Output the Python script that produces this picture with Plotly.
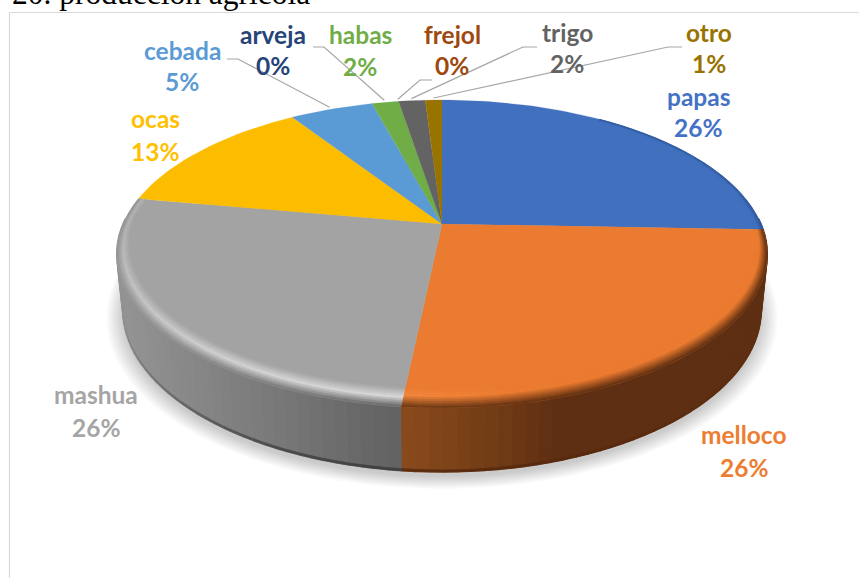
import math
import plotly.graph_objects as go

# ---- chart data ----
categories = ["papas", "melloco", "mashua", "ocas", "cebada", "arveja", "habas", "frejol", "trigo", "otro"]
values = [25.6, 26.1, 26.2, 13.0, 5.0, 0.0, 1.6, 0.0, 1.6, 1.0]
slice_colors = ["#4170bf", "#ea7b30", "#a3a3a3", "#fcbd00", "#5b9bd5", "#264478", "#70ad47", "#9e480e", "#636363", "#997300"]
label_colors = ["#4472c4", "#ed7d31", "#a5a5a5", "#ffc000", "#5b9bd5", "#264478", "#70ad47", "#9e480e", "#636363", "#997300"]
title_text = "20. producción agrícola"

# ---- layout of labels (pixel positions of name and percent lines) ----
label_x = [698, 744, 96, 155, 182, 273, 360, 452, 567, 709]
name_y = [96.5, 434.5, 394.5, 118.5, 50.5, 34.5, 34.5, 34.5, 32.5, 32.5]
pct_y = [127.5, 467.5, 427.5, 151.5, 81.5, 65.5, 66.5, 65.5, 63.5, 63.5]
# elbow of the leader lines: start and knee, for the categories that have one
leaders = {"cebada": (227, 238, 59), "habas": (313, 324, 47), "frejol": (432, 420, 80),
           "trigo": (537, 523, 47), "otro": (682, 668, 47)}

W, H = 859, 578
CX, CY = 442, 224
K = 0.195
TOP = (319.0, 148.2, 0.0)   # x scale, y scale, y origin shift
BOT = (313.0, 155.8, 54.4)


def proj(theta, r=1.0, g=TOP):
    u, v = math.sin(math.radians(theta)) * r, math.cos(math.radians(theta)) * r
    d = 1 + K * v
    return CX + g[0] * u / d, CY + g[2] - g[1] * v / d


def hex2rgb(c):
    return [int(c[i:i + 2], 16) for i in (1, 3, 5)]


def mix(a, b, t):
    t = max(0.0, min(1.0, t))
    return [a[i] + (b[i] - a[i]) * t for i in range(3)]


def css(c):
    return "rgb(%d,%d,%d)" % tuple(round(x) for x in c)


def ramp(stops, x):
    if x <= stops[0][0]:
        return hex2rgb(stops[0][1])
    for (x0, c0), (x1, c1) in zip(stops, stops[1:]):
        if x <= x1:
            return mix(hex2rgb(c0), hex2rgb(c1), (x - x0) / (x1 - x0))
    return hex2rgb(stops[-1][1])


SIDE = {
    "melloco": [(402, "#8a4a1c"), (480, "#763e17"), (560, "#5e2f12")],
    "mashua": [(125, "#939393"), (220, "#828282"), (300, "#747474"), (370, "#666666"), (402, "#626262")],
    "papas": [(740, "#2f4f85")],
}
EDGE = {"melloco": "#562a0f", "mashua": "#3c3c3c", "papas": "#2a4678"}

fig = go.Figure()


def poly(xs, ys, color, lw=0.6):
    fig.add_trace(go.Scatter(x=xs, y=ys, mode="lines", fill="toself", fillcolor=color,
                             line=dict(color=color, width=lw), hoverinfo="skip", showlegend=False))


total = sum(values)
starts, a = [], 0.0
for v in values:
    starts.append(a)
    a += v / total * 360

# soft shadow below the disc
ang = [i * 3 for i in range(121)]
for e in range(12, -1, -1):
    sc = 1 + e * 0.0042
    pts = [proj(t, sc, BOT) for t in ang]
    poly([p[0] for p in pts], [p[1] + 5 for p in pts], "rgba(0,0,0,0.016)", 0)

# side wall, drawn in thin strips so that the shade follows x
STEP = 2.0
for name, st, val in zip(categories, starts, values):
    if name not in SIDE or val == 0:
        continue
    a0, a1 = st, st + val / total * 360
    a0, a1 = max(a0, 88), min(a1, 272)
    n = max(1, int((a1 - a0) / STEP))
    for i in range(n):
        t0, t1 = a0 + (a1 - a0) * i / n, a0 + (a1 - a0) * (i + 1) / n
        p0, p1, q1, q0 = proj(t0), proj(t1), proj(t1, 1, BOT), proj(t0, 1, BOT)
        col = ramp(SIDE[name], (p0[0] + p1[0]) / 2)
        poly([p0[0], p1[0], q1[0], q0[0]], [p0[1], p1[1], q1[1], q0[1]], css(col), 1.6)
    for i in range(n):
        t0, t1 = a0 + (a1 - a0) * i / n, a0 + (a1 - a0) * (i + 1) / n
        q0, q1 = proj(t0, 1, BOT), proj(t1, 1, BOT)
        near = max(0.0, -math.cos(math.radians((t0 + t1) / 2)))
        col = mix(ramp(SIDE[name], q0[0]), hex2rgb(EDGE[name]), near ** 2 * 0.9)
        poly([q0[0], q1[0], q1[0], q0[0]], [q0[1] - 2, q1[1] - 2, q1[1], q0[1]], css(col), 0.8)

# top face wedges
for name, st, val, col in zip(categories, starts, values, slice_colors):
    if val == 0:
        continue
    a1 = st + val / total * 360
    n = max(2, int((a1 - st) / 1.5))
    pts = [proj(st + (a1 - st) * i / n) for i in range(n + 1)]
    poly([CX] + [p[0] for p in pts] + [CX], [CY] + [p[1] for p in pts] + [CY], col, 0.2)

# bevel on the rim
BANDS = 9


def rim_r(theta, t):
    near = max(0.0, -math.cos(math.radians(theta)))
    return 1 - (1 - t) * (0.028 + 0.058 * near)


def bevel_color(name, base, theta, t, x):
    near = max(0.0, -math.cos(math.radians(theta)))
    if name == "mashua":
        hi = mix(base, [255, 255, 255], 0.18 + 0.40 * near)
        out = ramp(SIDE[name], x)
        return mix(base, hi, t / 0.5) if t < 0.5 else mix(hi, out, (t - 0.5) / 0.5)
    if name == "melloco":
        lift = max(0.0, 1 - (x - 402) / 130)
        hi = mix(base, [255, 150, 80], 0.45 * lift)
        dark = mix(hex2rgb("#5a2d10"), ramp(SIDE[name], x), 0.3)
        return mix(base, hi, t / 0.4) if t < 0.4 else mix(hi, dark, (t - 0.4) / 0.6)
    return mix(base, hex2rgb("#2f5597"), max(0, t - 0.5) * 2)


for name, st, val, col in zip(categories, starts, values, slice_colors):
    if name not in ("melloco", "mashua", "papas"):
        continue
    a1 = st + val / total * 360
    a0 = st
    if name == "papas":
        a0 = 35.0
    base = hex2rgb(col)
    n = int((a1 - a0) / 3) + 1
    for b in range(BANDS):
        t0, t1 = b / BANDS, (b + 1) / BANDS
        for i in range(n):
            s0, s1 = a0 + (a1 - a0) * i / n, a0 + (a1 - a0) * (i + 1) / n
            p = [proj(s0, rim_r(s0, t0)), proj(s1, rim_r(s1, t0)), proj(s1, rim_r(s1, t1)), proj(s0, rim_r(s0, t1))]
            xm = sum(q[0] for q in p) / 4
            c = bevel_color(name, base, (s0 + s1) / 2, (t0 + t1) / 2, xm)
            poly([q[0] for q in p], [q[1] for q in p], css(c), 0.5)

# leader lines, ending just outside the middle of their slice
for name, st, val in zip(categories, starts, values):
    if name in leaders:
        x0, xk, yk = leaders[name]
        mid = st + val / total * 180
        ex, ey = proj(mid, 1.02)
        fig.add_trace(go.Scatter(x=[x0, xk, ex], y=[yk, yk, ey], mode="lines",
                                 line=dict(color="#a6a6a6", width=1.2), hoverinfo="skip", showlegend=False))

annots = []
for name, val, col, lx, ny, py in zip(categories, values, label_colors, label_x, name_y, pct_y):
    for txt, yy in ((name, ny), ("%d%%" % round(val), py)):
        annots.append(dict(x=lx, y=yy, text=txt, showarrow=False, xanchor="center", yanchor="middle",
                           font=dict(family="Lato", size=24.5, color=col, weight="bold")))
annots.append(dict(xref="paper", yref="paper", x=0.0116, y=1, text=title_text, showarrow=False,
                   xanchor="left", yanchor="bottom", yshift=-13,
                   font=dict(family="Liberation Serif", size=31.5, color="#000000")))

fig.update_layout(
    width=W, height=H, margin=dict(l=0, r=0, t=0, b=0, pad=0), autosize=False,
    paper_bgcolor="white", plot_bgcolor="white", showlegend=False,
    xaxis=dict(range=[0, W], visible=False, fixedrange=True),
    yaxis=dict(range=[H, 0], visible=False, fixedrange=True),
    annotations=annots,
    shapes=[dict(type="line", xref="x", yref="y", x0=9.5, x1=W, y0=12.5, y1=12.5, line=dict(color="#d9d9d9", width=1.2), layer="below"),
            dict(type="line", xref="x", yref="y", x0=9.5, x1=9.5, y0=12.5, y1=H, line=dict(color="#d9d9d9", width=1.2), layer="below")],
)
fig.write_html("out.html", config={"displayModeBar": False},
               post_script="document.body.style.margin='0';document.body.style.overflow='hidden';")
